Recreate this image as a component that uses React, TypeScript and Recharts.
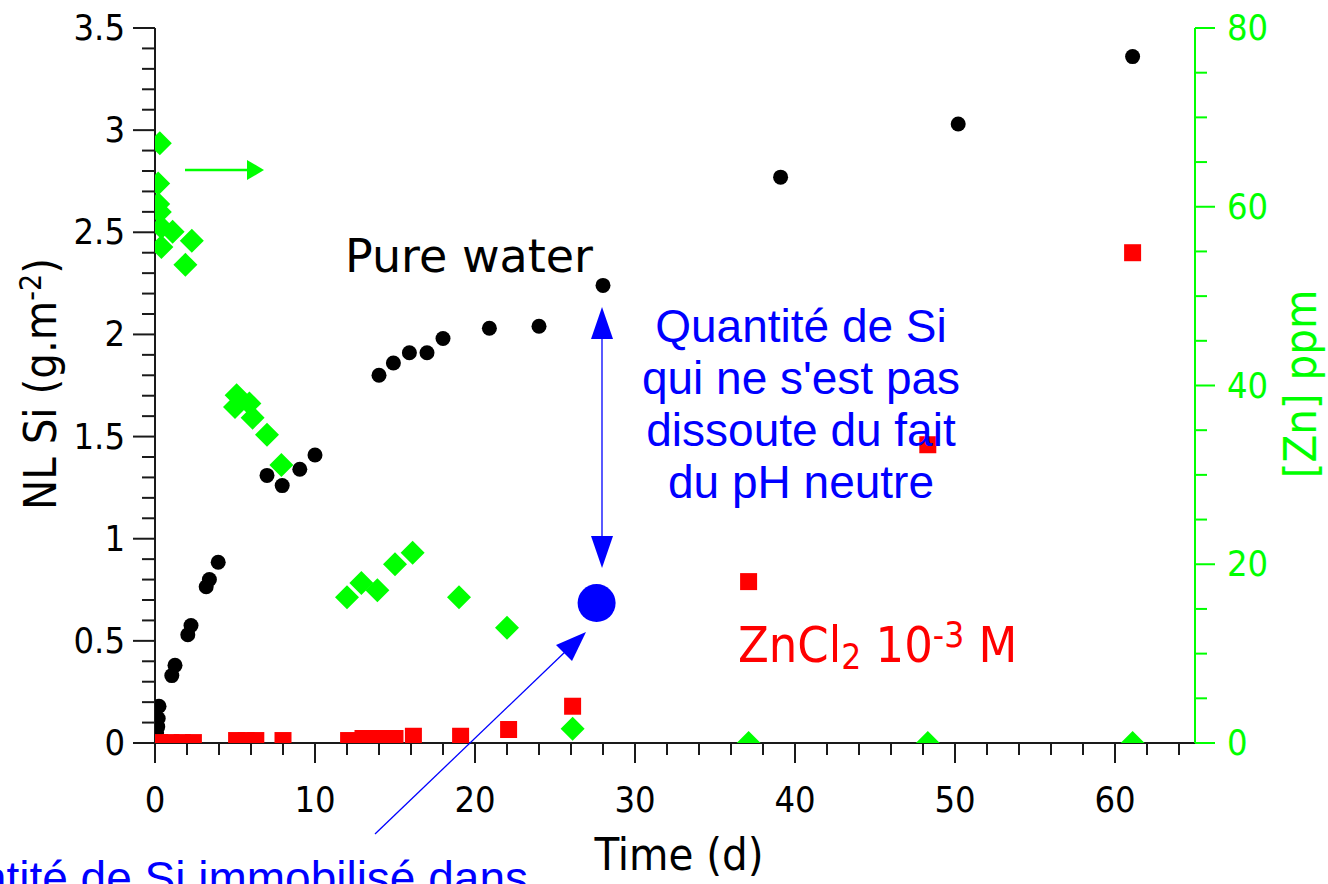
import React from 'react'
import { ScatterChart, Scatter, XAxis, YAxis, ReferenceDot } from 'recharts'

// NL Si in pure water (left axis)
const pureWaterTime = [0.1, 0.17, 0.2, 0.25, 1.05, 1.25, 2.05, 2.25, 3.2, 3.4, 3.95, 7.0, 7.95, 9.05, 10.0, 14.0, 14.9, 15.9, 17.0, 18.0, 20.9, 24.0, 28.0, 39.1, 50.2, 61.1]
const pureWaterSi = [0.05, 0.08, 0.12, 0.18, 0.33, 0.38, 0.53, 0.575, 0.765, 0.8, 0.885, 1.31, 1.26, 1.34, 1.41, 1.8, 1.86, 1.91, 1.91, 1.98, 2.03, 2.04, 2.24, 2.77, 3.03, 3.36]

// NL Si in ZnCl2 10-3 M (left axis)
const zncl2Time = [0.3, 1.0, 1.7, 2.4, 5.1, 5.7, 6.3, 8.0, 12.1, 13.0, 14.0, 15.0, 16.15, 19.1, 22.1, 26.1, 37.1, 48.3, 61.1]
const zncl2Si = [0.002, 0.002, 0.002, 0.002, 0.012, 0.012, 0.012, 0.012, 0.012, 0.022, 0.022, 0.022, 0.033, 0.033, 0.066, 0.18, 0.79, 1.46, 2.4]

// [Zn] ppm (right axis)
const znTime = [0.3, 0.2, 0.2, 0.3, 0.4, 1.1, 0.4, 2.3, 1.9, 5.0, 5.1, 5.9, 6.1, 7.0, 7.9, 12.0, 12.9, 13.9, 15.0, 16.1, 19.0, 22.0, 26.1, 37.1, 48.3, 61.1]
const znPpm = [67.1, 62.6, 60.3, 59.4, 57.7, 57.2, 55.5, 56.2, 53.5, 37.6, 38.9, 38.0, 36.4, 34.5, 31.1, 16.3, 17.9, 17.1, 20.0, 21.3, 16.3, 12.9, 1.6, 0, 0, 0]

const timeMajor = [0, 10, 20, 30, 40, 50, 60]
const siMajor = [0, 0.5, 1, 1.5, 2, 2.5, 3, 3.5]
const znMajor = [0, 20, 40, 60, 80]

const timeTicks = Array.from({ length: 33 }, (_, i) => i * 2)
const siTicks = Array.from({ length: 36 }, (_, i) => i / 10)
const znTicks = Array.from({ length: 17 }, (_, i) => i * 5)

const pureWater = pureWaterTime.map((t, i) => ({ t, v: pureWaterSi[i] }))
const zncl2 = zncl2Time.map((t, i) => ({ t, v: zncl2Si[i] }))
const zn = znTime.map((t, i) => ({ t, v: znPpm[i] }))

const AXIS = '#1a1a1a'
const GREEN = '#00ff00'
const RED = '#ff0000'
const BLUE = '#0000ff'
const TAHOMA = "'DejaVu Sans Condensed', 'DejaVu Sans', sans-serif"
const VERDANA = "'DejaVu Sans', sans-serif"
const ARIAL = "'Liberation Sans', Arial, sans-serif"

const Dot = (p: any) => <circle cx={p.cx} cy={p.cy} r={7.5} fill="#000" />
const Square = (p: any) => <rect x={p.cx - 8.5} y={p.cy - 8.5} width={17} height={17} fill={RED} />
const Diamond = (p: any) => (
  <polygon
    points={`${p.cx},${p.cy - 12} ${p.cx + 12},${p.cy} ${p.cx},${p.cy + 12} ${p.cx - 12},${p.cy}`}
    fill={GREEN}
  />
)

function TimeTick({ x, y, payload }: any) {
  const major = timeMajor.includes(payload.value)
  return (
    <g>
      <line x1={x} y1={y} x2={x} y2={y + (major ? 20 : 12)} stroke={AXIS} strokeWidth={2} />
      {major && (
        <text x={x} y={y + 69} textAnchor="middle" fontSize={36} fontFamily={TAHOMA} fill="#000">
          {payload.value}
        </text>
      )}
    </g>
  )
}

function SiTick({ x, y, payload }: any) {
  const major = siMajor.includes(payload.value)
  return (
    <g>
      <line x1={x} y1={y} x2={x - (major ? 22 : 13)} y2={y} stroke={AXIS} strokeWidth={2} />
      {major && (
        <text x={x - 30} y={y + 12} textAnchor="end" fontSize={36} fontFamily={TAHOMA} fill="#000">
          {String(payload.value)}
        </text>
      )}
    </g>
  )
}

function ZnTick({ x, y, payload }: any) {
  const major = znMajor.includes(payload.value)
  return (
    <g>
      <line x1={x} y1={y} x2={x + (major ? 20 : 12)} y2={y} stroke={GREEN} strokeWidth={2} />
      {major && (
        <text x={x + 32} y={y + 12} textAnchor="start" fontSize={36} fontFamily={TAHOMA} fill={GREEN}>
          {payload.value}
        </text>
      )}
    </g>
  )
}

export default function App() {
  return (
    <div style={{ position: 'absolute', left: 0, top: 0, width: 1328, height: 884, background: '#fff' }}>
      <ScatterChart width={1328} height={884} margin={{ top: 28, right: 0, bottom: 0, left: 0 }}>
        <XAxis
          type="number"
          dataKey="t"
          domain={[0, 65]}
          ticks={timeTicks}
          interval={0}
          allowDataOverflow
          height={141}
          tickSize={0}
          tickMargin={0}
          tickLine={false}
          axisLine={{ stroke: AXIS, strokeWidth: 2 }}
          tick={<TimeTick />}
        />
        <YAxis
          yAxisId="left"
          type="number"
          dataKey="v"
          domain={[0, 3.5]}
          ticks={siTicks}
          interval={0}
          allowDataOverflow
          width={155}
          tickSize={0}
          tickMargin={0}
          tickLine={false}
          axisLine={{ stroke: AXIS, strokeWidth: 2 }}
          tick={<SiTick />}
        />
        <YAxis
          yAxisId="right"
          orientation="right"
          type="number"
          dataKey="v"
          domain={[0, 80]}
          ticks={znTicks}
          interval={0}
          allowDataOverflow
          width={133}
          tickSize={0}
          tickMargin={0}
          tickLine={false}
          axisLine={{ stroke: GREEN, strokeWidth: 2 }}
          tick={<ZnTick />}
        />
        <Scatter yAxisId="left" data={pureWater} shape={Dot} isAnimationActive={false} />
        <Scatter yAxisId="left" data={zncl2} shape={Square} isAnimationActive={false} />
        <Scatter yAxisId="right" data={zn} shape={Diamond} isAnimationActive={false} />
        <ReferenceDot yAxisId="left" x={27.6} y={0.685} r={19} fill={BLUE} stroke="none" />
      </ScatterChart>

      <svg width={1328} height={884} style={{ position: 'absolute', left: 0, top: 0, pointerEvents: 'none' }}>
        {/* axis titles */}
        <text x={679} y={870} textAnchor="middle" fontSize={45} fontFamily={TAHOMA} fill="#000">
          Time (d)
        </text>
        <text
          x={56}
          y={384}
          transform="rotate(-90 56 384)"
          textAnchor="middle"
          fontSize={45}
          fontFamily={TAHOMA}
          fill="#000"
        >
          NL Si (g.m<tspan dy={-15} fontSize={30}>-2</tspan>
          <tspan dy={15}>)</tspan>
        </text>
        <text
          x={1316}
          y={384}
          transform="rotate(-90 1316 384)"
          textAnchor="middle"
          fontSize={45}
          fontFamily={TAHOMA}
          fill={GREEN}
        >
          [Zn] ppm
        </text>

        {/* series labels */}
        <text x={345} y={272} fontSize={46} fontFamily={VERDANA} fill="#000">
          Pure water
        </text>
        <text x={738} y={662} fontSize={50} fontFamily={TAHOMA} fill={RED}>
          ZnCl<tspan dy={7} fontSize={35}>2</tspan>
          <tspan dy={-7}> 10</tspan>
          <tspan dy={-15} fontSize={35}>-3</tspan>
          <tspan dy={15}> M</tspan>
        </text>

        {/* green arrow pointing to the right axis */}
        <line x1={185} y1={170} x2={250} y2={170} stroke={GREEN} strokeWidth={2.5} />
        <polygon points="264,170 247,160 247,180" fill={GREEN} />

        {/* double arrow */}
        <line x1={602} y1={335} x2={602} y2={540} stroke={BLUE} strokeWidth={1.3} />
        <polygon points="602,307 591,339 613,339" fill={BLUE} />
        <polygon points="602,568 591,536 613,536" fill={BLUE} />

        {/* diagonal arrow */}
        <line x1={375} y1={834} x2={566} y2={651} stroke={BLUE} strokeWidth={1.3} />
        <polygon points="586,632 556,645 572,661" fill={BLUE} />

        {/* annotations */}
        <g fontSize={46} fontFamily={ARIAL} fill={BLUE} textAnchor="middle">
          <text x={801} y={342}>Quantité de Si</text>
          <text x={801} y={394}>qui ne s'est pas</text>
          <text x={801} y={446}>dissoute du fait</text>
          <text x={801} y={498}>du pH neutre</text>
        </g>
        <text x={528} y={894} textAnchor="end" fontSize={46} fontFamily={ARIAL} fill={BLUE}>
          Quantité de Si immobilisé dans
        </text>
      </svg>
    </div>
  )
}
